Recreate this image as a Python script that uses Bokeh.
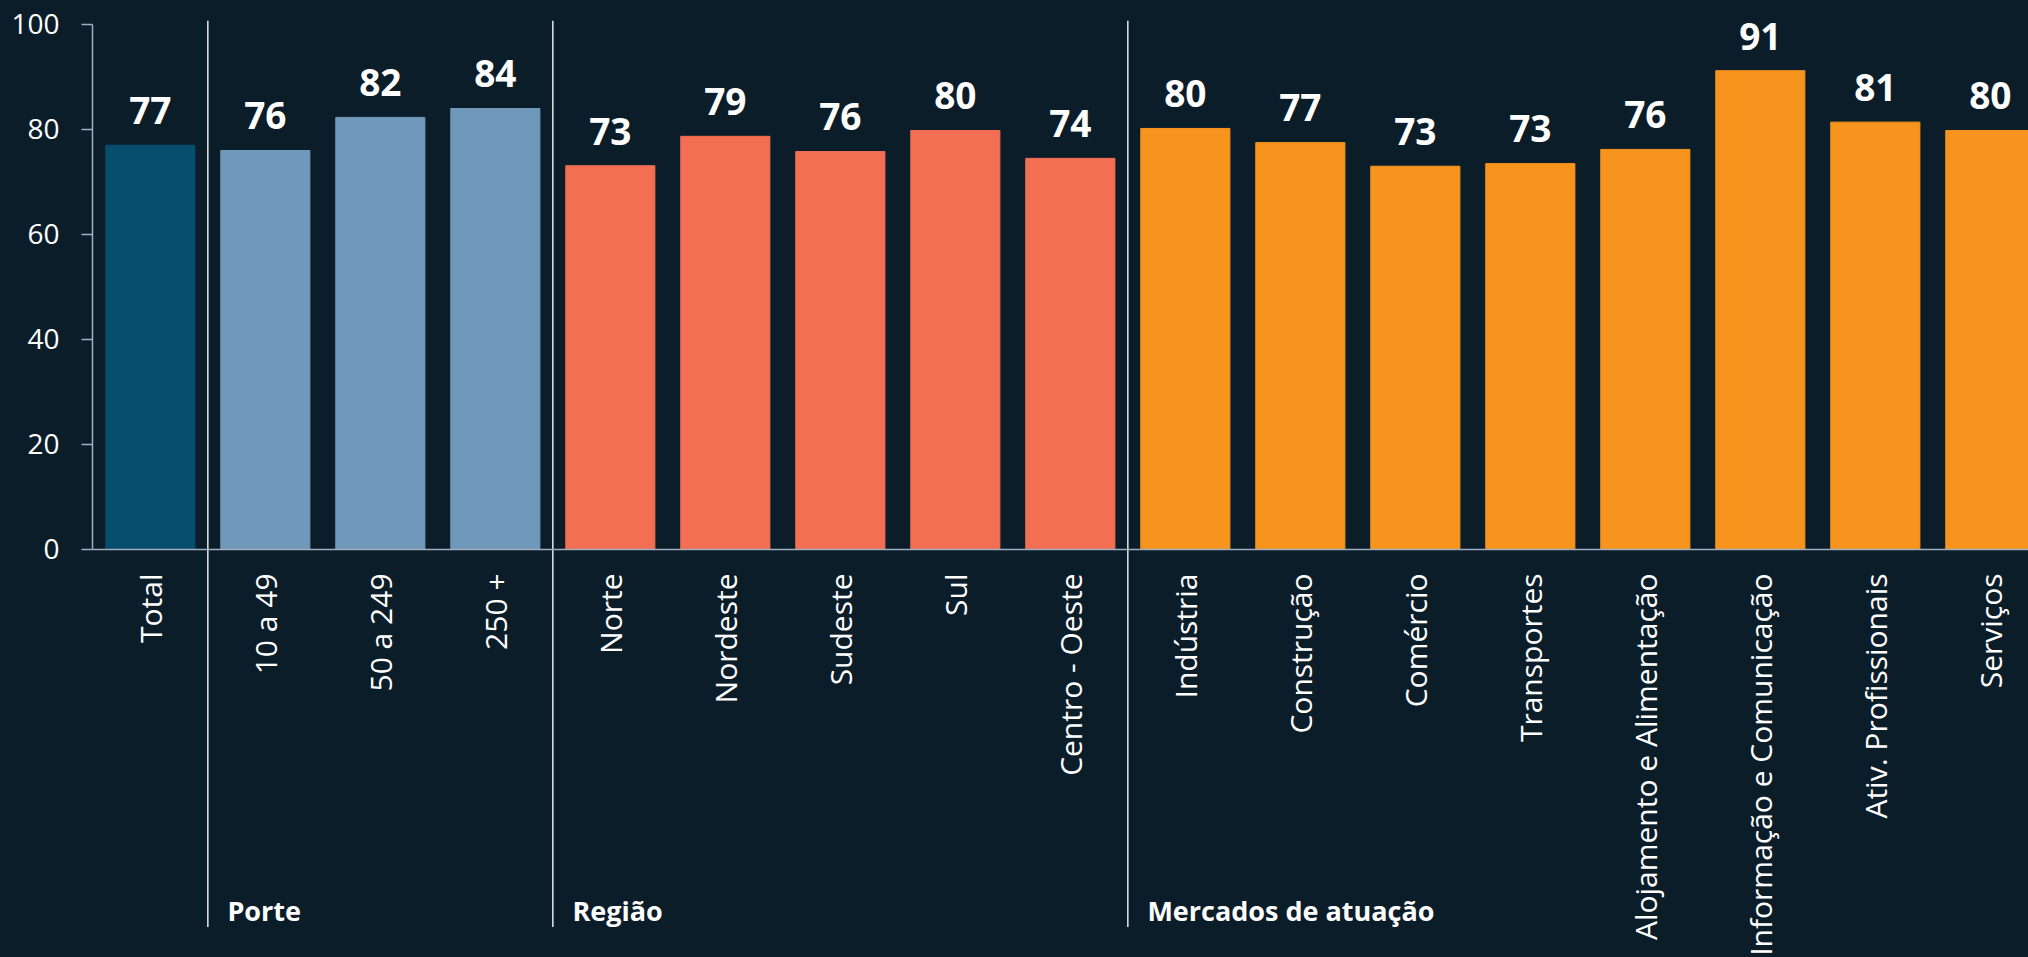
import math
from bokeh.plotting import figure
from bokeh.models import ColumnDataSource, Range1d, FixedTicker, Span
from bokeh.core.properties import value
from bokeh.embed import file_html
from bokeh.resources import INLINE

# ---------------- data ----------------
categories = ["Total", "10 a 49", "50 a 249", "250 +",
              "Norte", "Nordeste", "Sudeste", "Sul", "Centro - Oeste",
              "Indústria", "Construção", "Comércio", "Transportes",
              "Alojamento e Alimentação", "Informação e Comunicação",
              "Ativ. Profissionais", "Serviços"]
values = [77.0, 76.0, 82.3, 84.0,
          73.1, 78.7, 75.8, 79.8, 74.5,
          80.2, 77.5, 73.0, 73.5, 76.2, 91.2, 81.4, 79.8]
value_labels = ["77", "76", "82", "84",
                "73", "79", "76", "80", "74",
                "80", "77", "73", "73", "76", "91", "81", "80"]
group_of = ["Total", "Porte", "Porte", "Porte",
            "Região", "Região", "Região", "Região", "Região",
            "Mercados de atuação", "Mercados de atuação", "Mercados de atuação",
            "Mercados de atuação", "Mercados de atuação", "Mercados de atuação",
            "Mercados de atuação", "Mercados de atuação"]
group_names = ["Porte", "Região", "Mercados de atuação"]
group_first = [1, 4, 9]
y_ticks = [0, 20, 40, 60, 80, 100]

# ---------------- style ----------------
BG = "#0c1d2a"
group_colors = {"Total": "#074d6e", "Porte": "#7098ba",
                "Região": "#f26f53", "Mercados de atuação": "#f7941d"}
AXIS = "#9eafc0"
SEP = "#e4e8ec"

xs = list(range(len(categories)))
src = ColumnDataSource(dict(
    x=xs, v=values, lab=value_labels, cat=categories,
    ly=[v + 6.6 for v in values],
    color=[group_colors[g] for g in group_of],
))

p = figure(width=2028, height=957,
           x_range=Range1d(-0.503, 16.332), y_range=Range1d(-77.72, 100.76),
           output_backend="svg", toolbar_location=None, x_axis_location=None,
           min_border_left=92, min_border_right=0, min_border_top=20, min_border_bottom=0,
           background_fill_color=BG, border_fill_color=BG, outline_line_color=None)
p.xgrid.visible = False
p.ygrid.visible = False

ax = p.yaxis[0]
ax.ticker = FixedTicker(ticks=y_ticks)
ax.bounds = (0, 100)
ax.axis_line_color = AXIS
ax.axis_line_width = 1.5
ax.major_tick_line_color = AXIS
ax.major_tick_line_width = 1.5
ax.major_tick_out = 11
ax.major_tick_in = 0
ax.minor_tick_line_color = None
ax.major_label_standoff = 22
ax.major_label_text_color = "white"
ax.major_label_text_font = "Open Sans"
ax.major_label_text_font_size = "28px"

# zero line
p.add_layout(Span(location=0, dimension="width", line_color=AXIS, line_width=1.5))

# bars
p.vbar(x="x", top="v", bottom=0, width=0.775, color="color", source=src)

# group separators
seps = [g - 0.5 for g in group_first]
p.segment(x0=seps, x1=seps, y0=[-71.9] * len(seps), y1=[100.76] * len(seps),
          line_color=SEP, line_width=1.5)

# value labels
p.text(x="x", y="ly", text="lab", source=src, text_color="white",
       text_font=value("Open Sans"), text_font_size=value("37px"),
       text_font_style="bold", text_align="center", text_baseline="alphabetic")

# category labels
p.text(x="x", y=-4.57, text="cat", source=src, angle=math.pi / 2,
       text_color="white", text_font=value("Open Sans"), text_font_size=value("30px"),
       text_align="right", text_baseline="middle")

# group labels
p.text(x=[s + 0.17 for s in seps], y=[-68.7] * len(seps), text=group_names,
       text_color="white", text_font=value("Open Sans"), text_font_size=value("27px"),
       text_font_style="bold", text_align="left", text_baseline="alphabetic")

html = file_html(p, INLINE)
html = html.replace("</head>", "<style>html,body{background:%s;margin:0;}</style></head>" % BG, 1)
open("out.html", "w").write(html)
